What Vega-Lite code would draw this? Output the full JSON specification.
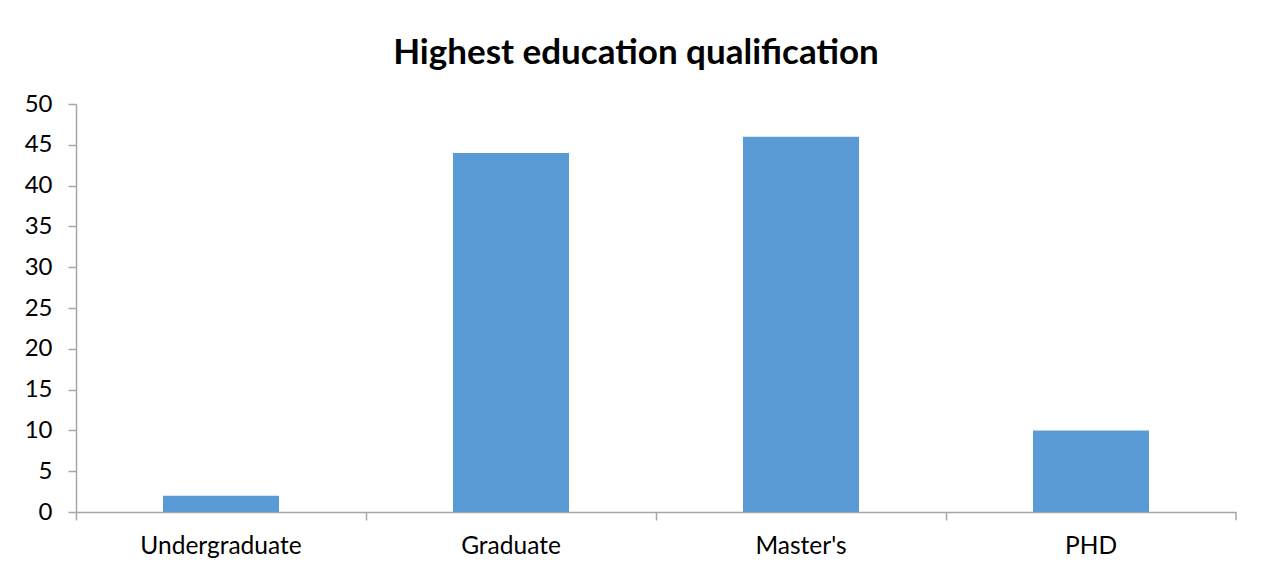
{
  "$schema": "https://vega.github.io/schema/vega-lite/v6.json",
  "autosize": "none",
  "width": 1160,
  "height": 408,
  "padding": {"left": 76, "top": 104, "right": 30, "bottom": 66},
  "background": "white",
  "title": {
    "text": "Highest education qualification",
    "font": "Lato",
    "fontSize": 35,
    "fontWeight": "bold",
    "color": "#000000",
    "anchor": "middle",
    "dx": -20,
    "offset": 21
  },
  "data": {
    "values": [
      {"qualification": "Undergraduate", "count": 2},
      {"qualification": "Graduate", "count": 44},
      {"qualification": "Master's", "count": 46},
      {"qualification": "PHD", "count": 10}
    ]
  },
  "layer": [
    {
      "mark": {"type": "bar", "color": "#5B9BD5", "width": {"band": 0.4}},
      "encoding": {
        "x": {
          "field": "qualification",
          "type": "nominal",
          "sort": null,
          "scale": {"paddingInner": 0, "paddingOuter": 0},
          "axis": {
            "title": null,
            "labelAngle": 0,
            "labelFont": "Lato",
            "labelFontSize": 24.5,
            "labelColor": "#000000",
            "labelPadding": 14,
            "domainColor": "#a6a6a6",
            "domainWidth": 1.5,
            "tickColor": "#a6a6a6",
            "tickSize": 8,
            "tickWidth": 1.5,
            "bandPosition": 0
          }
        },
        "y": {
          "field": "count",
          "type": "quantitative",
          "scale": {"domain": [0, 50]},
          "axis": {
            "title": null,
            "values": [0, 5, 10, 15, 20, 25, 30, 35, 40, 45, 50],
            "grid": false,
            "labelFont": "Lato",
            "labelFontSize": 24,
            "labelColor": "#000000",
            "labelPadding": 16,
            "domainColor": "#a6a6a6",
            "domainWidth": 1.5,
            "tickColor": "#a6a6a6",
            "tickSize": 8,
            "tickWidth": 1.5
          }
        }
      }
    },
    {
      "transform": [{"filter": "datum.qualification === 'PHD'"}],
      "mark": {"type": "rule", "color": "#a6a6a6", "strokeWidth": 1.5},
      "encoding": {
        "x": {"field": "qualification", "type": "nominal", "sort": null, "bandPosition": 1},
        "y": {"datum": 0},
        "y2": {"datum": -1}
      }
    }
  ],
  "config": {"view": {"stroke": null}}
}
